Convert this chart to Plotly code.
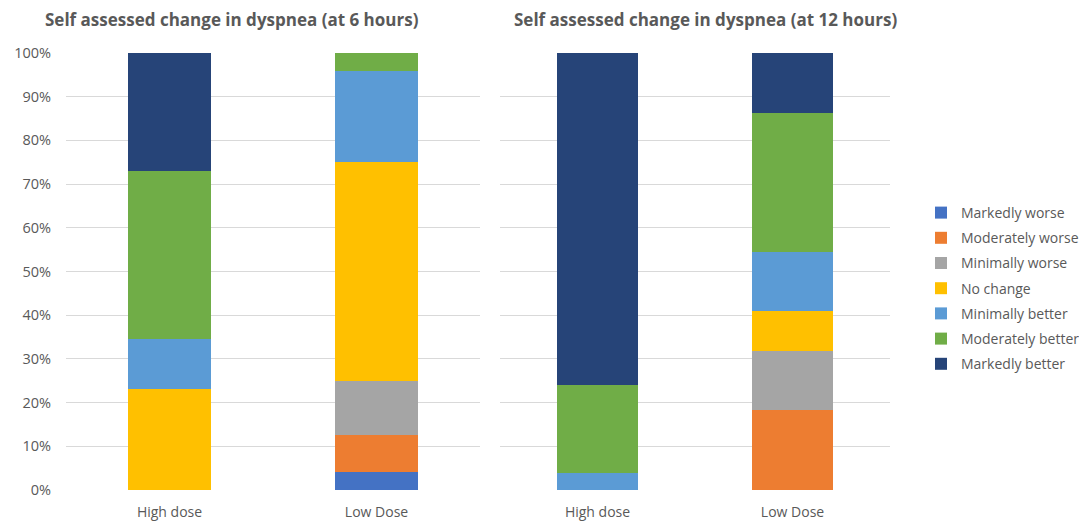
import plotly.graph_objects as go

categories = ["High dose", "Low Dose"]
series_names = ["Markedly worse", "Moderately worse", "Minimally worse", "No change",
                "Minimally better", "Moderately better", "Markedly better"]
colors = ["#4472C4", "#ED7D31", "#A5A5A5", "#FFC000", "#5B9BD5", "#70AD47", "#264478"]

# percentages at 6 hours: [High dose, Low Dose]
h6 = {
    "Markedly worse":    [0.0, 4.2],
    "Moderately worse":  [0.0, 8.3],
    "Minimally worse":   [0.0, 12.5],
    "No change":         [23.1, 50.0],
    "Minimally better":  [11.5, 20.8],
    "Moderately better": [38.5, 4.2],
    "Markedly better":   [26.9, 0.0],
}
# percentages at 12 hours
h12 = {
    "Markedly worse":    [0.0, 0.0],
    "Moderately worse":  [0.0, 18.2],
    "Minimally worse":   [0.0, 13.6],
    "No change":         [0.0, 9.1],
    "Minimally better":  [4.0, 13.6],
    "Moderately better": [20.0, 31.8],
    "Markedly better":   [76.0, 13.6],
}
titles = ["Self assessed change in dyspnea (at 6 hours)",
          "Self assessed change in dyspnea (at 12 hours)"]
y_ticks = [0, 10, 20, 30, 40, 50, 60, 70, 80, 90, 100]

W, H = 1079, 525
fig = go.Figure()
for name, col in zip(series_names, colors):
    fig.add_trace(go.Bar(x=categories, y=[v / 100 for v in h6[name]], name=name,
                         marker=dict(color=col, line=dict(width=0)), width=0.4,
                         xaxis="x", yaxis="y", legendgroup=name, showlegend=True))
    fig.add_trace(go.Bar(x=categories, y=[v / 100 for v in h12[name]], name=name,
                         marker=dict(color=col, line=dict(width=0)), width=0.42,
                         xaxis="x2", yaxis="y2", legendgroup=name, showlegend=False))

font_col = "#595959"
grid_col = "#D9D9D9"
yd = [(H - 490) / H, (H - 53) / H]
fig.update_layout(
    width=W, height=H, margin=dict(l=0, r=0, t=0, b=0, autoexpand=False),
    paper_bgcolor="white", plot_bgcolor="white",
    barmode="stack", bargap=0,
    font=dict(family="Open Sans, Calibri, sans-serif", size=14, color=font_col),
    xaxis=dict(domain=[66 / W, 480 / W], showgrid=False, showline=False, ticks="",
               tickfont=dict(size=14, color=font_col), automargin=False, ticklabelstandoff=12),
    xaxis2=dict(domain=[500 / W, 890 / W], showgrid=False, showline=False, ticks="",
                tickfont=dict(size=14, color=font_col), automargin=False, ticklabelstandoff=12),
    yaxis=dict(domain=yd, range=[0, 1], tickvals=[t / 100 for t in y_ticks],
               ticktext=[f"{t}%" for t in y_ticks], showgrid=True, gridcolor=grid_col,
               zeroline=False, showline=False, ticks="", automargin=False,
               ticklabelstandoff=14, tickfont=dict(size=14.5, color=font_col)),
    yaxis2=dict(domain=yd, range=[0, 1], anchor="x2", tickvals=[t / 100 for t in y_ticks],
                showticklabels=False, showgrid=True, gridcolor=grid_col, automargin=False,
                zeroline=False, showline=False, ticks=""),
    legend=dict(x=921 / W, y=(H - 197) / H, xanchor="left", yanchor="top",
                traceorder="grouped", tracegroupgap=4, font=dict(size=14, color=font_col),
                itemwidth=30),
    annotations=[
        dict(text=f"<b>{titles[0]}</b>", x=232 / W, y=(H - 20) / H, xref="paper", yref="paper",
             showarrow=False, font=dict(size=17, color=font_col), xanchor="center", yanchor="middle"),
        dict(text=f"<b>{titles[1]}</b>", x=705 / W, y=(H - 20) / H, xref="paper", yref="paper",
             showarrow=False, font=dict(size=17, color=font_col), xanchor="center", yanchor="middle"),
    ],
)
fig.write_html("out.html")
